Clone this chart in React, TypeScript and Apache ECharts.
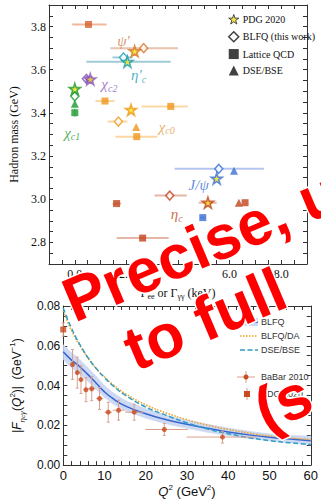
import React, { useEffect, useRef } from 'react';
import * as echarts from 'echarts';

const SERIF = '"Liberation Serif", "DejaVu Serif", serif';
const SANS = '"Liberation Sans", Arial, sans-serif';
const STAR = 'path://M50,2 L61.8,38.2 L99.5,38.2 L69,60.5 L80.5,96.5 L50,74 L19.5,96.5 L31,60.5 L0.5,38.2 L38.2,38.2 Z';

// ---------- top panel: [Gamma (keV), mass (GeV), kind, xLow, xHigh]
type Pt = [number, number, string, number | null, number | null];
const psi3770Pts: Pt[] = [[0.53, 3.81, 'lat', -0.1, 1.23]];
const psi2SPts: Pt[] = [[2.67, 3.70, 'blfq', 1.38, 4.0], [2.32, 3.686, 'pdg', null, null]];
const etac2SPts: Pt[] = [[1.89, 3.657, 'blfq', 1.46, 2.24], [2.04, 3.637, 'pdg', 0.45, 3.72]];
const chic2Pts: Pt[] = [[0.45, 3.558, 'blfq', null, null], [0.55, 3.555, 'lat', null, null], [0.6, 3.556, 'pdg', null, null]];
const chic1Pts: Pt[] = [[0.0, 3.511, 'pdg', null, null], [0.0, 3.477, 'blfq', null, null], [0.0, 3.443, 'dse', null, null], [0.0, 3.401, 'lat', null, null]];
const chic1MassErr = [[0.0, 3.382, 3.42]];
const chic0Pts: Pt[] = [[1.17, 3.455, 'lat', 0.8, 1.54], [2.18, 3.414, 'pdg', null, null], [3.72, 3.43, 'lat', 2.59, 4.38], [1.69, 3.36, 'blfq', 1.27, 2.04], [2.38, 3.335, 'dse', null, null], [2.4, 3.29, 'lat', 1.57, 3.2]];
const jpsiPts: Pt[] = [[5.58, 3.141, 'blfq', 3.87, 7.33], [6.17, 3.132, 'dse', null, null], [5.5, 3.096, 'pdg', null, null], [4.96, 2.915, 'lat', 4.85, 5.07]];
const etacPts: Pt[] = [[3.68, 3.017, 'blfq', 3.09, 4.34], [1.62, 2.98, 'lat', 1.46, 1.8], [5.16, 2.984, 'pdg', 4.8, 5.5], [6.36, 2.984, 'dse', null, null], [6.6, 2.984, 'lat', null, null], [2.63, 2.82, 'lat', 1.62, 3.64]];

const labelTexts = ['{g|ψ′}', '{g|η′}{s|c}', '{g|χ}{s|c2}', '{g|χ}{s|c1}', '{g|χ}{s|c0}', '{g|J/ψ}', '{g|η}{s|c}'];
const labelX = [1.89, 2.47, 1.34, -0.1, 3.56, 4.8, 3.95];
const labelY = [3.735, 3.574, 3.533, 3.307, 3.335, 3.067, 2.93];
const labelColors = ['#c97a45', '#1c9db8', '#8a55c0', '#1a9a30', '#e09a3a', '#3b6fd4', '#c0441c'];

const topLegendNames = ['PDG 2020', 'BLFQ (this work)', 'Lattice QCD', 'DSE/BSE'];

// ---------- bottom panel
const q2Grid = [0, 1, 2, 3, 4, 5, 6, 8, 10, 12, 15, 20, 25, 30, 35, 40, 45, 50, 55, 60];
const blfqF = [0.057, 0.0548, 0.0528, 0.0512, 0.0495, 0.0475, 0.0455, 0.0412, 0.0368, 0.0335, 0.0298, 0.0258, 0.0228, 0.0205, 0.0185, 0.0167, 0.0152, 0.014, 0.0131, 0.0123];
const blfqLo = [0.053, 0.051, 0.049, 0.0475, 0.0458, 0.044, 0.0421, 0.038, 0.034, 0.0308, 0.0274, 0.0236, 0.0207, 0.0185, 0.0165, 0.0148, 0.0134, 0.0122, 0.0113, 0.0105];
const blfqHi = [0.0605, 0.0585, 0.0565, 0.0548, 0.053, 0.051, 0.049, 0.0446, 0.04, 0.0365, 0.0325, 0.0283, 0.0251, 0.0226, 0.0205, 0.0186, 0.017, 0.0157, 0.015, 0.0145];
const blfqDAF = [0.0775, 0.0722, 0.0677, 0.0637, 0.0601, 0.0568, 0.0538, 0.0486, 0.0443, 0.0406, 0.036, 0.0303, 0.0262, 0.0228, 0.0201, 0.0179, 0.0161, 0.0147, 0.0137, 0.0128];
const dseF = [0.079, 0.0735, 0.0688, 0.0645, 0.0607, 0.0572, 0.054, 0.0485, 0.044, 0.04, 0.0352, 0.0292, 0.025, 0.0212, 0.0182, 0.0158, 0.0138, 0.0123, 0.0112, 0.0103];

const babarQ2 = [2.24, 3.4, 4.3, 5.5, 6.9, 8.8, 10.9, 13.4, 17.2, 24.5, 38.6];
const babarQ2Lo = [2.0, 3.0, 4.0, 5.0, 6.0, 8.0, 10.0, 12.0, 15.0, 19.9, 29.9];
const babarQ2Hi = [2.5, 3.8, 4.6, 6.0, 7.8, 9.7, 11.8, 14.8, 19.5, 30.2, 46.9];
const babarF = [0.0506, 0.0465, 0.043, 0.0379, 0.0384, 0.0335, 0.0266, 0.0276, 0.0266, 0.0179, 0.0141];
const babarFErr = [0.0075, 0.0078, 0.007, 0.006, 0.006, 0.0055, 0.005, 0.005, 0.004, 0.003, 0.003];
const pdgQ2 = [0];
const pdgF = [0.0682];
const pdgFErr = [0.0033];

const bottomLegend = ['BLFQ', 'BLFQ/DA', 'DSE/BSE', 'BaBar 2010', 'PDG 2020'];

const overlayLines = ['Precise, u', 'to full', '(s'];

function kindStyle(kind: string, c: string) {
  if (kind === 'pdg') return { symbol: STAR, symbolSize: 11, itemStyle: { color: '#f4e41c', borderColor: c, borderWidth: 1.6 } };
  if (kind === 'blfq') return { symbol: 'diamond', symbolSize: [8, 9], itemStyle: { color: '#ffffff', borderColor: c, borderWidth: 1.5 } };
  if (kind === 'lat') return { symbol: 'rect', symbolSize: 7, itemStyle: { color: c } };
  return { symbol: 'triangle', symbolSize: 8, itemStyle: { color: c } };
}

function errRender(color: string, width: number, cap: number) {
  return (params: any, api: any) => {
    const x = api.value(0), y = api.value(1);
    const xl = api.value(2), xh = api.value(3), yl = api.value(4), yh = api.value(5);
    const children: any[] = [];
    const st = { stroke: color, lineWidth: width };
    if (xh > xl) {
      const a = api.coord([xl, y]), b = api.coord([xh, y]);
      children.push({ type: 'line', shape: { x1: a[0], y1: a[1], x2: b[0], y2: b[1] }, style: st });
    }
    if (yh > yl) {
      const a = api.coord([x, yl]), b = api.coord([x, yh]);
      children.push({ type: 'line', shape: { x1: a[0], y1: a[1], x2: b[0], y2: b[1] }, style: st });
      if (cap > 0) {
        children.push({ type: 'line', shape: { x1: a[0] - cap, y1: a[1], x2: a[0] + cap, y2: a[1] }, style: st });
        children.push({ type: 'line', shape: { x1: b[0] - cap, y1: b[1], x2: b[0] + cap, y2: b[1] }, style: st });
      }
    }
    return { type: 'group', children };
  };
}

const BAND = '#cdd9f3';

export default function App() {
  const ref = useRef<HTMLDivElement>(null);
  useEffect(() => {
    if (!ref.current) return;
    const chart = echarts.init(ref.current, undefined, { renderer: 'svg' });

    const groups: [Pt[], string, string][] = [
      [psi3770Pts, '#d5612a', '#f0b89a'],
      [psi2SPts, '#d9772b', '#e9c3ad'],
      [etac2SPts, '#1c9db8', '#9fcbd7'],
      [chic2Pts, '#8a55c0', '#c9b0e0'],
      [chic1Pts, '#1a9a30', '#9fd4a8'],
      [chic0Pts, '#f0951a', '#f9d8a3'],
      [jpsiPts, '#3b6fd4', '#b4c6f0'],
      [etacPts, '#c0441c', '#e6b6a6'],
    ];

    const series: any[] = [];
    groups.forEach(([pts, c, pale]) => {
      const bars = pts.filter((p) => p[3] !== null).map((p) => [p[0], p[1], p[3], p[4], 0, 0]);
      if (bars.length) {
        series.push({ type: 'custom', xAxisIndex: 0, yAxisIndex: 0, z: 1, renderItem: errRender(pale, 2, 0), data: bars, silent: true });
      }
    });
    series.push({
      type: 'custom', xAxisIndex: 0, yAxisIndex: 0, z: 1, renderItem: errRender('#9fd4a8', 1.5, 0),
      data: chic1MassErr.map((e) => [e[0], (e[1] + e[2]) / 2, 0, 0, e[1], e[2]]),
    });
    ['blfq', 'lat', 'dse', 'pdg'].forEach((kind) => {
      groups.forEach(([pts, c]) => {
        const d = pts.filter((p) => p[2] === kind).map((p) => [p[0], p[1]]);
        if (d.length) series.push({ type: 'scatter', xAxisIndex: 0, yAxisIndex: 0, z: kind === 'pdg' ? 4 : 3, data: d, ...kindStyle(kind, c) });
      });
    });
    // particle labels
    series.push({
      type: 'scatter', xAxisIndex: 0, yAxisIndex: 0, symbolSize: 0, z: 5, silent: true,
      data: labelTexts.map((t, i) => ({
        value: [labelX[i], labelY[i]],
        label: { show: true, position: 'inside', formatter: t, color: labelColors[i] },
      })),
      label: {
        show: true,
        rich: {
          g: { fontFamily: SERIF, fontStyle: 'italic', fontSize: 15, lineHeight: 18 },
          s: { fontFamily: SERIF, fontStyle: 'italic', fontSize: 10, verticalAlign: 'bottom' },
        },
      },
    });
    topLegendNames.forEach((n) => series.push({ type: 'scatter', name: n, xAxisIndex: 0, yAxisIndex: 0, data: [] }));

    // bottom panel: uncertainty band as quads between successive grid points
    series.push({
      type: 'custom', xAxisIndex: 2, yAxisIndex: 2, z: 1, silent: true,
      data: q2Grid.slice(0, -1).map((q, i) => [q, blfqLo[i], blfqHi[i], q2Grid[i + 1], blfqLo[i + 1], blfqHi[i + 1]]),
      renderItem: (params: any, api: any) => {
        const a = api.coord([api.value(0), api.value(1)]);
        const b = api.coord([api.value(0), api.value(2)]);
        const c = api.coord([api.value(3), api.value(5)]);
        const d = api.coord([api.value(3), api.value(4)]);
        return { type: 'polygon', shape: { points: [a, b, c, d] }, style: { fill: BAND, stroke: BAND, lineWidth: 0.6 } };
      },
    });
    const pair = (ys: number[]) => q2Grid.map((q, i) => [q, ys[i]]);
    series.push({ type: 'line', name: 'c_blfq', xAxisIndex: 2, yAxisIndex: 2, data: pair(blfqF), symbol: 'none', smooth: true, lineStyle: { color: '#3565d0', width: 1.5 }, z: 3 });
    series.push({ type: 'line', name: 'c_da', xAxisIndex: 2, yAxisIndex: 2, data: pair(blfqDAF), symbol: 'none', smooth: true, lineStyle: { color: '#f0a020', width: 1.5, type: [1.5, 1.5] }, z: 3 });
    series.push({ type: 'line', name: 'c_dse', xAxisIndex: 2, yAxisIndex: 2, data: pair(dseF), symbol: 'none', smooth: true, lineStyle: { color: '#2e9cc4', width: 1.5, type: [5, 2.5] }, z: 3 });
    series.push({
      type: 'custom', xAxisIndex: 2, yAxisIndex: 2, z: 4, renderItem: errRender('#d9a08c', 1, 1.5),
      data: babarQ2.map((q, i) => [q, babarF[i], babarQ2Lo[i], babarQ2Hi[i], babarF[i] - babarFErr[i], babarF[i] + babarFErr[i]]),
    });
    series.push({
      type: 'custom', xAxisIndex: 2, yAxisIndex: 2, z: 4, renderItem: errRender('#d9a08c', 1, 1.5),
      data: pdgQ2.map((q, i) => [q, pdgF[i], q, q, pdgF[i] - pdgFErr[i], pdgF[i] + pdgFErr[i]]),
    });
    series.push({ type: 'scatter', xAxisIndex: 2, yAxisIndex: 2, z: 5, symbol: 'circle', symbolSize: 5, itemStyle: { color: '#c94a1f' }, data: babarQ2.map((q, i) => [q, babarF[i]]) });
    series.push({ type: 'scatter', xAxisIndex: 2, yAxisIndex: 2, z: 5, symbol: 'rect', symbolSize: 6, itemStyle: { color: '#c94a1f' }, data: pdgQ2.map((q, i) => [q, pdgF[i]]) });

    const axLine = { show: true, onZero: false, lineStyle: { color: '#333', width: 1 } };
    const axTick = { show: true, inside: true, length: 4, lineStyle: { color: '#333', width: 1 } };
    const noLabel = { show: false };
    const topXFmt = (v: number) => (Math.abs(v / 2 - Math.round(v / 2)) < 1e-6 ? v.toFixed(1) : '');
    const topYFmt = (v: number) => (Math.round(v * 100) % 20 === 0 ? v.toFixed(1) : '');
    const botXFmt = (v: number) => (Math.round(v) % 10 === 0 ? String(Math.round(v)) : '');
    const botYFmt = (v: number) => (Math.round(v * 1000) % 20 === 0 ? v.toFixed(2) : '');

    const legendGraphic: any[] = [];
    const lx = 240, lw = 18, tx = 261;
    const rowsY = [322, 336, 350, 377, 394];
    legendGraphic.push({ type: 'rect', shape: { x: lx, y: rowsY[0] - 4, width: lw, height: 8 }, style: { fill: BAND } });
    legendGraphic.push({ type: 'line', shape: { x1: lx, y1: rowsY[0], x2: lx + lw, y2: rowsY[0] }, style: { stroke: '#3565d0', lineWidth: 1.5 } });
    legendGraphic.push({ type: 'line', shape: { x1: lx, y1: rowsY[1], x2: lx + lw, y2: rowsY[1] }, style: { stroke: '#f0a020', lineWidth: 1.5, lineDash: [1.5, 1.5] } });
    legendGraphic.push({ type: 'line', shape: { x1: lx, y1: rowsY[2], x2: lx + lw, y2: rowsY[2] }, style: { stroke: '#2e9cc4', lineWidth: 1.5, lineDash: [5, 2.5] } });
    legendGraphic.push({ type: 'line', shape: { x1: 237, y1: rowsY[3], x2: 255, y2: rowsY[3] }, style: { stroke: '#d9a08c', lineWidth: 1 } });
    legendGraphic.push({ type: 'line', shape: { x1: 246, y1: rowsY[3] - 6, x2: 246, y2: rowsY[3] + 6 }, style: { stroke: '#d9a08c', lineWidth: 1 } });
    legendGraphic.push({ type: 'circle', shape: { cx: 246, cy: rowsY[3], r: 2.5 }, style: { fill: '#c94a1f' } });
    legendGraphic.push({ type: 'line', shape: { x1: 247, y1: rowsY[4] - 6, x2: 247, y2: rowsY[4] + 6 }, style: { stroke: '#d9a08c', lineWidth: 1 } });
    legendGraphic.push({ type: 'rect', shape: { x: 244, y: rowsY[4] - 3, width: 6, height: 6 }, style: { fill: '#c94a1f' } });
    bottomLegend.forEach((t, i) => legendGraphic.push({
      type: 'text', x: tx, y: rowsY[i], style: { text: t, font: `9px ${SANS}`, fill: '#333', align: 'left', verticalAlign: 'middle', textAlign: 'left', textVerticalAlign: 'middle' },
    }));

    const ang = (23 * Math.PI) / 180;
    const overlayPos = [[66, 303], [127, 352], [257.6, 412.5]];
    const overlay = overlayLines.map((t, i) => ({
      type: 'text', x: overlayPos[i][0], y: overlayPos[i][1], rotation: ang, z: 100,
      style: {
        text: t, font: `bold 62px ${SANS}`, fill: '#ff0000', stroke: '#ffffff', lineWidth: 3, strokeFirst: true,
        align: 'left', verticalAlign: 'middle', textAlign: 'left', textVerticalAlign: 'middle',
      },
    }));

    const option: any = {
      animation: false,
      backgroundColor: '#ffffff',
      grid: [
        { left: 49, top: 5, width: 258, height: 259 },
        { left: 52, top: 306, width: 260, height: 162 },
      ],
      legend: {
        left: 223, top: 9, orient: 'vertical', itemGap: 6.5, itemWidth: 10, itemHeight: 10, selectedMode: false,
        textStyle: { fontFamily: SERIF, fontSize: 10, color: '#111', padding: [0, 0, 0, -1] },
        data: [
          { name: topLegendNames[0], icon: STAR, itemStyle: { color: '#f2e21a', borderColor: '#222', borderWidth: 1 } },
          { name: topLegendNames[1], icon: 'diamond', itemStyle: { color: '#ffffff', borderColor: '#111', borderWidth: 1.5 } },
          { name: topLegendNames[2], icon: 'rect', itemStyle: { color: '#111' } },
          { name: topLegendNames[3], icon: 'triangle', itemStyle: { color: '#111' } },
        ],
      },
      xAxis: [
        {
          type: 'value', gridIndex: 0, position: 'bottom', min: -1, max: 9, interval: 0.5,
          axisLine: axLine, axisTick: axTick, splitLine: { show: false },
          axisLabel: { margin: 4, fontFamily: SERIF, fontSize: 12, color: '#111', formatter: topXFmt },
          name: 'Γ{sub|ee} or Γ{sub|γγ} (keV)', nameLocation: 'middle', nameGap: 18,
          nameTextStyle: {
            fontFamily: SERIF, fontSize: 12, color: '#111', lineHeight: 16,
            rich: { sub: { fontFamily: SERIF, fontSize: 8, color: '#111', verticalAlign: 'bottom' } },
          },
        },
        { type: 'value', gridIndex: 0, position: 'top', min: -1, max: 9, interval: 0.5, axisLine: axLine, axisTick: axTick, axisLabel: noLabel, splitLine: { show: false } },
        {
          type: 'value', gridIndex: 1, position: 'bottom', min: 0, max: 60, interval: 2,
          axisLine: axLine, axisTick: axTick, splitLine: { show: false },
          axisLabel: { margin: 4, fontFamily: SANS, fontSize: 13, color: '#111', formatter: botXFmt },
          name: '{i|Q}{sup|2} (GeV{sup|2})', nameLocation: 'middle', nameGap: 16,
          nameTextStyle: {
            fontFamily: SANS, fontSize: 13, color: '#111', lineHeight: 16,
            rich: {
              i: { fontFamily: SANS, fontSize: 13, fontStyle: 'italic', color: '#111' },
              sup: { fontFamily: SANS, fontSize: 8, color: '#111', verticalAlign: 'top' },
            },
          },
        },
        { type: 'value', gridIndex: 1, position: 'top', min: 0, max: 60, interval: 2, axisLine: axLine, axisTick: axTick, axisLabel: noLabel, splitLine: { show: false } },
      ],
      yAxis: [
        {
          type: 'value', gridIndex: 0, position: 'left', min: 2.7, max: 3.9, interval: 0.05,
          axisLine: axLine, axisTick: axTick, splitLine: { show: false },
          axisLabel: { margin: 3, fontFamily: SERIF, fontSize: 12, color: '#111', formatter: topYFmt },
          name: 'Hadron mass (GeV)', nameLocation: 'middle', nameGap: 20,
          nameTextStyle: { fontFamily: SERIF, fontSize: 12, color: '#111' },
        },
        { type: 'value', gridIndex: 0, position: 'right', min: 2.7, max: 3.9, interval: 0.05, axisLine: axLine, axisTick: axTick, axisLabel: noLabel, splitLine: { show: false } },
        {
          type: 'value', gridIndex: 1, position: 'left', min: 0, max: 0.08, interval: 0.005,
          axisLine: axLine, axisTick: axTick, splitLine: { show: false },
          axisLabel: { margin: 3, fontFamily: SANS, fontSize: 12, color: '#111', formatter: botYFmt },
          name: '|{i|F}{sub|η}{sub2|c}{sub|γ}({i|Q}{sup|2})|  (GeV{sup|−1})', nameLocation: 'middle', nameGap: 23,
          nameTextStyle: {
            fontFamily: SANS, fontSize: 12, color: '#111', lineHeight: 18,
            rich: {
              i: { fontFamily: SANS, fontSize: 12, fontStyle: 'italic', color: '#111' },
              sub: { fontFamily: SANS, fontSize: 8, fontStyle: 'italic', color: '#111', verticalAlign: 'bottom' },
              sub2: { fontFamily: SANS, fontSize: 6, fontStyle: 'italic', color: '#111', verticalAlign: 'bottom' },
              sup: { fontFamily: SANS, fontSize: 8, color: '#111', verticalAlign: 'top' },
            },
          },
        },
        { type: 'value', gridIndex: 1, position: 'right', min: 0, max: 0.08, interval: 0.005, axisLine: axLine, axisTick: axTick, axisLabel: noLabel, splitLine: { show: false } },
      ],
      series,
      graphic: [...legendGraphic, ...overlay],
    };
    chart.setOption(option);
    return () => chart.dispose();
  }, []);
  return <div ref={ref} style={{ position: 'fixed', left: 0, top: 0, width: 321, height: 500 }} />;
}
